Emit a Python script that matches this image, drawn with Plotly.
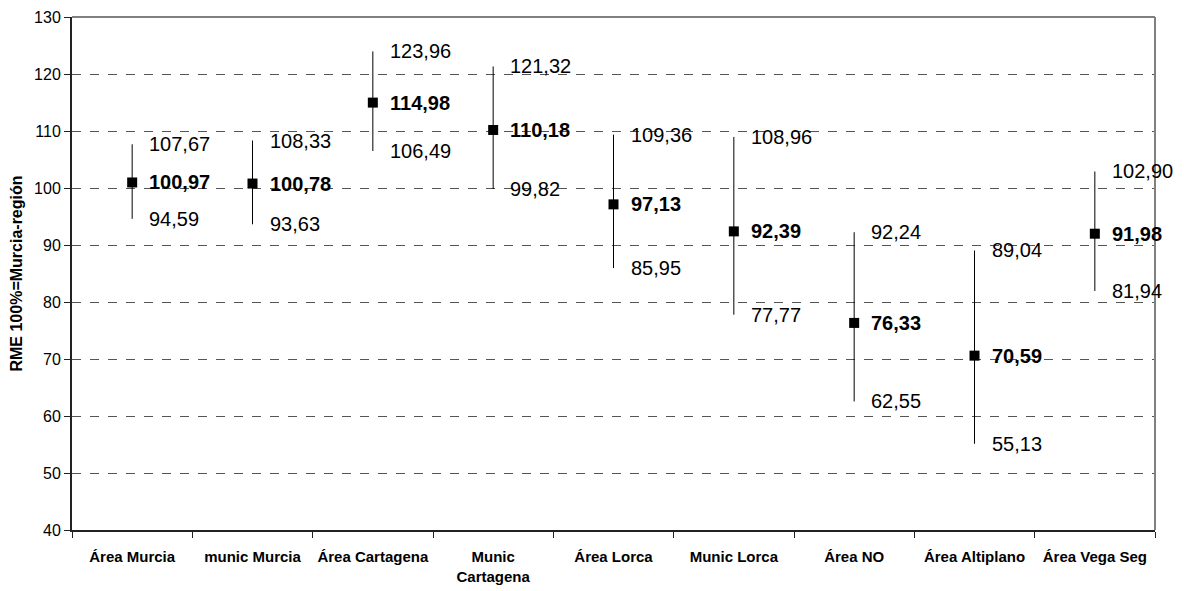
import plotly.graph_objects as go

categories = ["Área Murcia", "munic Murcia", "Área Cartagena", "Munic<br>Cartagena",
              "Área Lorca", "Munic Lorca", "Área NO", "Área Altiplano", "Área Vega Seg"]
rme = [100.97, 100.78, 114.98, 110.18, 97.13, 92.39, 76.33, 70.59, 91.98]
upper = [107.67, 108.33, 123.96, 121.32, 109.36, 108.96, 92.24, 89.04, 102.90]
lower = [94.59, 93.63, 106.49, 99.82, 85.95, 77.77, 62.55, 55.13, 81.94]
y_ticks = [40, 50, 60, 70, 80, 90, 100, 110, 120, 130]

FONT = "Liberation Sans, Arial"

def fmt(v):
    return f"{v:.2f}".replace(".", ",")

fig = go.Figure()
fig.add_trace(go.Scatter(
    x=categories, y=rme, mode="markers",
    marker=dict(symbol="square", size=10, color="black"),
    error_y=dict(type="data", symmetric=False,
                 array=[u - m for u, m in zip(upper, rme)],
                 arrayminus=[m - l for m, l in zip(rme, lower)],
                 color="black", thickness=1, width=0),
    showlegend=False, hoverinfo="skip"))

ann = []
for c, m, u, l in zip(categories, rme, upper, lower):
    for val, bold in ((u, False), (m, True), (l, False)):
        txt = fmt(val)
        if bold:
            txt = "<b>" + txt + "</b>"
        ann.append(dict(x=c, y=val, xref="x", yref="y", text=txt, showarrow=False,
                        xanchor="left", yanchor="middle", xshift=15,
                        font=dict(family=FONT, size=20, color="black")))

shapes = [
    dict(type="line", xref="paper", yref="paper", x0=0, x1=1, y0=1, y1=1,
         line=dict(color="#808080", width=2)),
    dict(type="line", xref="paper", yref="paper", x0=1, x1=1, y0=0, y1=1,
         line=dict(color="#808080", width=2)),
]

fig.update_layout(
    width=1168, height=583,
    margin=dict(l=64, r=21, t=9, b=61, autoexpand=False),
    plot_bgcolor="white", paper_bgcolor="white",
    font=dict(family=FONT, color="black"),
    annotations=ann, shapes=shapes,
    xaxis=dict(type="category", range=[-0.5, 8.5], tickson="boundaries",
               ticks="outside", ticklen=6, tickcolor="#222", showgrid=False,
               showline=True, linecolor="#222", linewidth=2,
               tickangle=0, automargin=False, ticklabelstandoff=12,
               tickfont=dict(size=15, family=FONT),
               tickprefix="<b>", ticksuffix="</b>"),
    yaxis=dict(range=[40, 130], tickvals=y_ticks, ticks="outside", ticklen=6,
               tickcolor="#222", showline=True, linecolor="#222", linewidth=2,
               showgrid=True, gridcolor="#555", griddash="dash", gridwidth=1,
               zeroline=False, automargin=False,
               tickfont=dict(size=16, family=FONT),
               title=dict(text="<b>RME 100%=Murcia-región</b>", standoff=8,
                          font=dict(size=16, family=FONT))),
)

fig.write_html("out.html")
